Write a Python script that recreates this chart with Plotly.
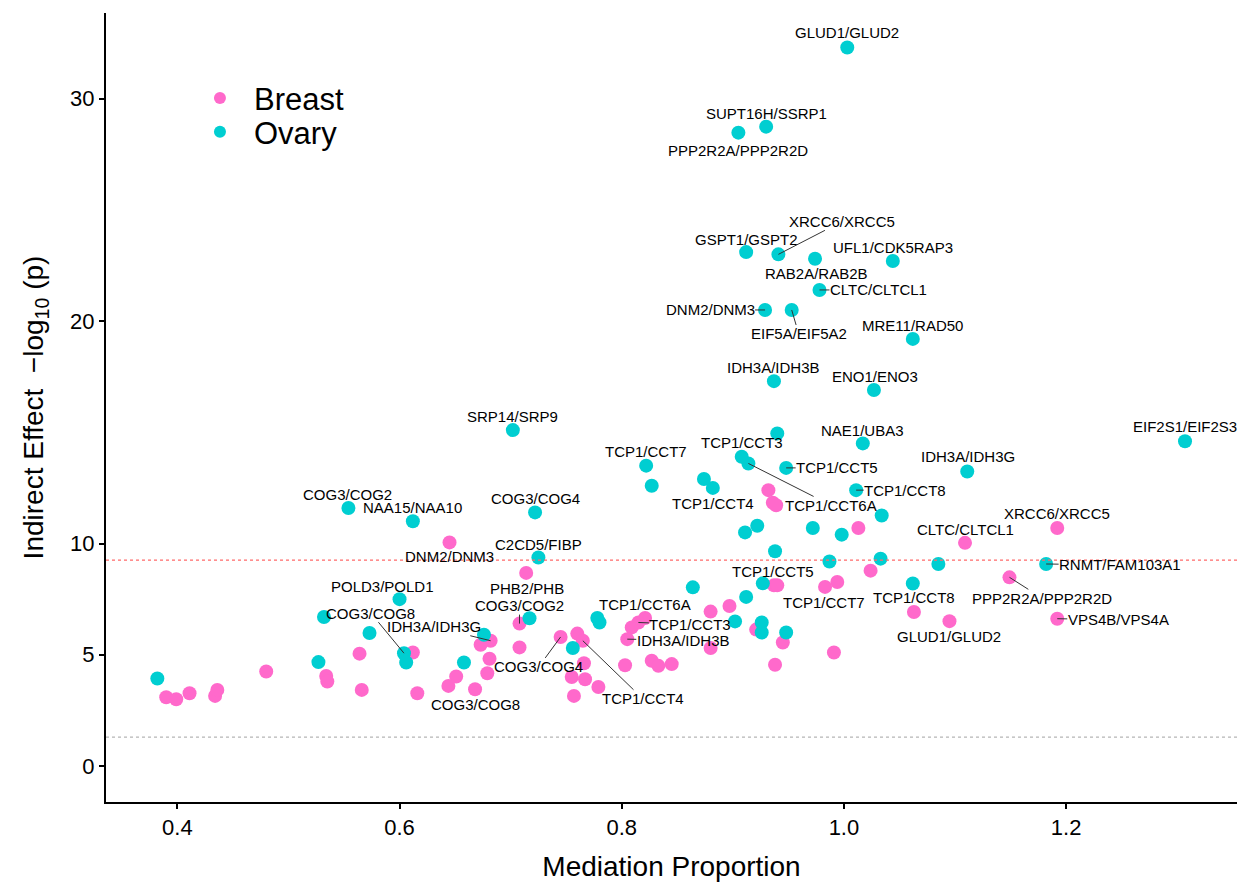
import plotly.graph_objects as go

# ---------------- data ----------------
breast_x = [0.932, 0.936, 0.939, 1.013, 1.192, 1.109, 0.645, 0.714, 1.024, 1.149,
            0.937, 0.940, 0.983, 0.994, 0.897, 0.880, 1.063, 1.095, 1.192, 0.821,
            0.815, 0.809, 0.805, 0.708, 0.682, 0.673, 0.708, 0.681, 0.679, 0.651,
            0.644, 0.668, 0.616, 0.745, 0.760, 0.765, 0.766, 0.755, 0.767, 0.779,
            0.757, 0.803, 0.827, 0.833, 0.845, 0.880, 0.921, 0.945, 0.938, 0.991,
            0.612, 0.564, 0.480, 0.390, 0.399, 0.411, 0.434, 0.436, 0.534, 0.535,
            0.566]
breast_y = [12.4, 11.83, 11.72, 10.7, 10.7, 10.03, 10.05, 8.68, 8.78, 8.48,
            8.12, 8.12, 8.05, 8.27, 7.19, 6.94, 6.92, 6.51, 6.62, 6.65,
            6.45, 6.23, 5.7, 6.4, 5.63, 5.45, 5.33, 4.82, 4.17, 4.02,
            3.6, 3.45, 3.27, 5.8, 5.95, 5.63, 4.62, 4.0, 3.9, 3.55,
            3.15, 4.53, 4.73, 4.5, 4.58, 5.3, 6.13, 5.55, 4.55, 5.1,
            5.1, 5.05, 4.25, 3.09, 3.0, 3.27, 3.15, 3.42, 4.05, 3.8,
            3.42]
breast_label = {4: "XRCC6/XRCC5", 5: "CLTC/CLTCL1", 6: "DNM2/DNM3", 7: "PHB2/PHB",
                9: "PPP2R2A/PPP2R2D", 12: "TCP1/CCT7", 17: "GLUD1/GLUD2",
                18: "VPS4B/VPS4A", 19: "TCP1/CCT6A", 20: "TCP1/CCT3",
                22: "IDH3A/IDH3B", 23: "COG3/COG2", 24: "IDH3A/IDH3G",
                31: "COG3/COG8", 33: "COG3/COG4", 35: "TCP1/CCT4"}

ovary_x = [1.003, 0.930, 0.905, 0.912, 0.941, 0.974, 1.044, 0.978, 0.929, 0.953,
           1.062, 0.937, 1.027, 0.702, 0.940, 1.017, 1.307, 0.822, 0.908, 0.914,
           0.948, 1.111, 0.827, 0.874, 0.882, 1.011, 1.034, 0.554, 0.612, 0.722,
           0.922, 0.911, 0.972, 0.998, 0.725, 0.938, 0.987, 1.033, 1.085, 1.182,
           0.927, 1.062, 0.864, 0.912, 0.600, 0.532, 0.778, 0.780, 0.717, 0.573,
           0.676, 0.604, 0.606, 0.527, 0.658, 0.756, 0.902, 0.926, 0.926, 0.948,
           0.382]
ovary_y = [32.3, 28.74, 28.47, 23.1, 23.0, 22.8, 22.7, 21.4, 20.5, 20.5,
           19.2, 17.3, 16.9, 15.1, 14.95, 14.5, 14.6, 13.5, 13.9, 13.6,
           13.4, 13.24, 12.6, 12.9, 12.5, 12.4, 11.26, 11.6, 11.0, 11.4,
           10.8, 10.5, 10.7, 10.4, 9.37, 9.65, 9.19, 9.32, 9.08, 9.08,
           8.21, 8.2, 8.03, 7.6, 7.5, 6.7, 6.65, 6.45, 6.64, 5.98,
           5.9, 5.07, 4.65, 4.67, 4.65, 5.3, 6.5, 6.45, 6.0, 6.0,
           3.93]
ovary_label = {0: "GLUD1/GLUD2", 1: "SUPT16H/SSRP1", 2: "PPP2R2A/PPP2R2D",
               3: "GSPT1/GSPT2", 4: "XRCC6/XRCC5", 5: "RAB2A/RAB2B",
               6: "UFL1/CDK5RAP3", 7: "CLTC/CLTCL1", 8: "DNM2/DNM3",
               9: "EIF5A/EIF5A2", 10: "MRE11/RAD50", 11: "IDH3A/IDH3B",
               12: "ENO1/ENO3", 13: "SRP14/SRP9", 15: "NAE1/UBA3",
               16: "EIF2S1/EIF2S3", 17: "TCP1/CCT7", 18: "TCP1/CCT3",
               19: "TCP1/CCT6A", 20: "TCP1/CCT5", 21: "IDH3A/IDH3G",
               24: "TCP1/CCT4", 25: "TCP1/CCT8", 27: "COG3/COG2",
               28: "NAA15/NAA10", 29: "COG3/COG4", 34: "C2CD5/FIBP",
               39: "RNMT/FAM103A1", 40: "TCP1/CCT5", 41: "TCP1/CCT8",
               44: "POLD3/POLD1", 51: "COG3/COG8"}

thresh_red = 9.25
thresh_grey = 1.3

# ---------------- label placement (pixel offsets of text centre, line flag) ----
breast_pos = {4: (0, -14, 0), 5: (0, -13, 0), 6: (0, 14, 0), 7: (1, 16, 0),
              9: (33, 21, 1), 12: (-1, 16, 0), 17: (0, 15, 0), 18: (61, 1, 1),
              19: (0, -14, 0), 20: (52, 2, 1), 22: (56, 1, 1), 23: (0, -18, 1),
              24: (-57, -14, 1), 31: (0, 15, 0), 33: (-22, 30, 1), 35: (60, 58, 1)}
ovary_pos = {0: (0, -15, 0), 1: (0, -13, 0), 2: (0, 18, 0), 3: (0, -13, 0),
             4: (64, -33, 1), 5: (1, 15, 0), 6: (0, -14, 0), 7: (59, 0, 1),
             8: (-55, 0, 1), 9: (7, 24, 1), 10: (0, -13, 0), 11: (0, -14, 0),
             12: (1, -14, 0), 13: (0, -14, 0), 15: (0, -13, 0), 16: (0, -15, 0),
             17: (0, -14, 0), 18: (0, -14, 0), 19: (83, 42, 1), 20: (51, 0, 1),
             21: (1, -15, 0), 24: (0, 16, 0), 25: (49, 0, 1), 27: (-1, -13, 0),
             28: (0, -14, 0), 29: (0, -14, 0), 34: (0, -13, 0), 39: (74, 1, 1),
             40: (10, -12, 0), 41: (1, 14, 0), 44: (-17, -13, 0), 51: (-33, -40, 1)}

PINK = "#FF69CB"
CYAN = "#00CED1"
FONT = "Liberation Sans, Arial, sans-serif"

fig = go.Figure()
fig.add_trace(go.Scatter(x=breast_x, y=breast_y, mode="markers", name="Breast",
                         legend="legend",
                         marker=dict(color=PINK, size=14, line=dict(width=0))))
fig.add_trace(go.Scatter(x=ovary_x, y=ovary_y, mode="markers", name="Ovary",
                         legend="legend2",
                         marker=dict(color=CYAN, size=14, line=dict(width=0))))

annotations = []
for xs, ys, labels, pos in ((breast_x, breast_y, breast_label, breast_pos),
                            (ovary_x, ovary_y, ovary_label, ovary_pos)):
    for i, txt in labels.items():
        dx, dy, line = pos[i]
        annotations.append(dict(
            x=xs[i], y=ys[i], xref="x", yref="y", text=txt,
            showarrow=True, ax=dx, ay=dy, arrowhead=0, arrowwidth=1,
            arrowcolor="#333333" if line else "rgba(0,0,0,0)",
            standoff=0, startstandoff=0, borderpad=0,
            font=dict(family=FONT, size=15, color="black")))

fig.add_hline(y=thresh_red, line=dict(color="#FF6A6A", width=1.2, dash="dot"))
fig.add_hline(y=thresh_grey, line=dict(color="#B5B5B5", width=1.2, dash="dot"))

legend_common = dict(xanchor="left", yanchor="middle",
                     font=dict(size=31, color="black", family=FONT),
                     bgcolor="rgba(0,0,0,0)", itemsizing="constant",
                     itemwidth=58)

fig.update_layout(
    width=1240, height=884,
    margin=dict(l=106, r=3, t=13, b=82, autoexpand=False),
    paper_bgcolor="white", plot_bgcolor="white",
    font=dict(family=FONT, color="black"),
    annotations=annotations,
    showlegend=True,
    legend=dict(x=0.0707, y=0.8917, **legend_common),
    legend2=dict(x=0.0707, y=0.849, **legend_common),
    xaxis=dict(range=[0.3358, 1.3538], tickvals=[0.4, 0.6, 0.8, 1.0, 1.2],
               ticktext=["0.4", "0.6", "0.8", "1.0", "1.2"],
               showgrid=False, zeroline=False, showline=True, linecolor="black",
               linewidth=2, ticks="outside", ticklen=5, tickwidth=1.5,
               tickcolor="black", tickfont=dict(size=22, color="black"),
               title=dict(text="Mediation Proportion", font=dict(size=28), standoff=17)),
    yaxis=dict(range=[-1.62, 33.85], tickvals=[0, 5, 10, 20, 30],
               showgrid=False, zeroline=False, showline=True, linecolor="black",
               linewidth=2, ticks="outside", ticklen=5, tickwidth=1.5,
               tickcolor="black", tickfont=dict(size=22, color="black"),
               title=dict(text="Indirect Effect \u00a0\u2212log<sub>10</sub> (p)",
                          font=dict(size=28), standoff=18)),
)

fig.write_html("out.html")
